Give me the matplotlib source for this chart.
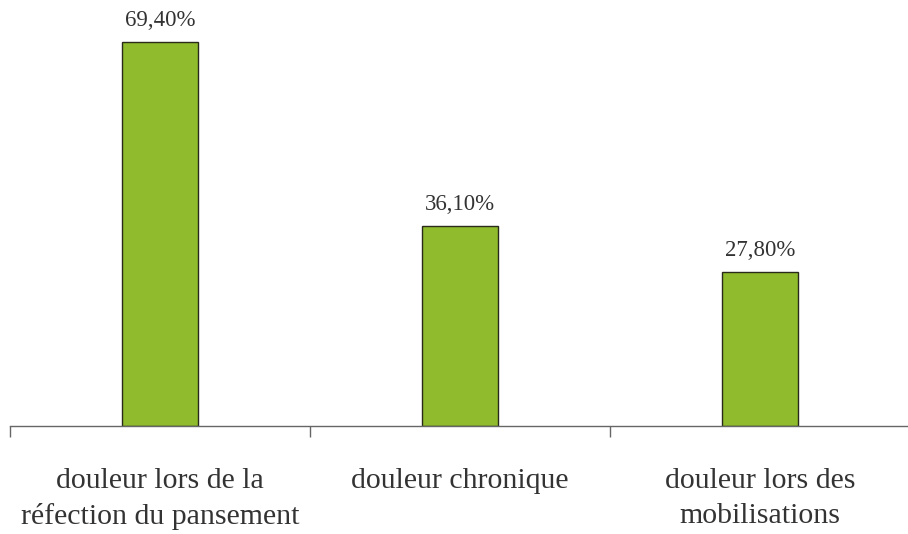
import matplotlib.pyplot as plt
import numpy as np

# data
categories = ["douleur lors de la\nréfection du pansement",
              "douleur chronique",
              "douleur lors des\nmobilisations"]
values = [69.4, 36.1, 27.8]
value_labels = ["69,40%", "36,10%", "27,80%"]

plt.rcParams['font.family'] = ['Liberation Serif', 'DejaVu Serif']

W, H = 908, 534
fig = plt.figure(figsize=(W / 100, H / 100), dpi=100)
# axes placed in pixel terms: baseline at y=426, category width 300px
ax = fig.add_axes([10 / W, (H - 426) / H, 900 / W, 415 / H])

x = np.arange(len(categories))
ax.bar(x, values, width=0.255, color='#8fbb2c', edgecolor='#2a2a1a', linewidth=1.0)

for xi, v, lab in zip(x, values, value_labels):
    ax.annotate(lab, (xi, v), xytext=(0, 8), textcoords='offset points',
                ha='center', va='bottom', fontsize=16.5, color='#333333')

ax.set_xlim(-0.5, 2.5)
ax.set_ylim(0, 75)

ax.set_xticks(x)
ax.set_xticklabels(categories, fontsize=21.5, color='#333333', linespacing=1.45)
ax.tick_params(axis='x', which='major', length=0, pad=30)
ax.set_xticks([-0.5, 0.5, 1.5, 2.5], minor=True)
ax.tick_params(axis='x', which='minor', length=8, width=1, color='#666666', direction='out')

ax.set_yticks([])
for side in ['left', 'right', 'top']:
    ax.spines[side].set_visible(False)
ax.spines['bottom'].set_color('#666666')
ax.spines['bottom'].set_linewidth(1)

fig.savefig("out.png", dpi=100)
